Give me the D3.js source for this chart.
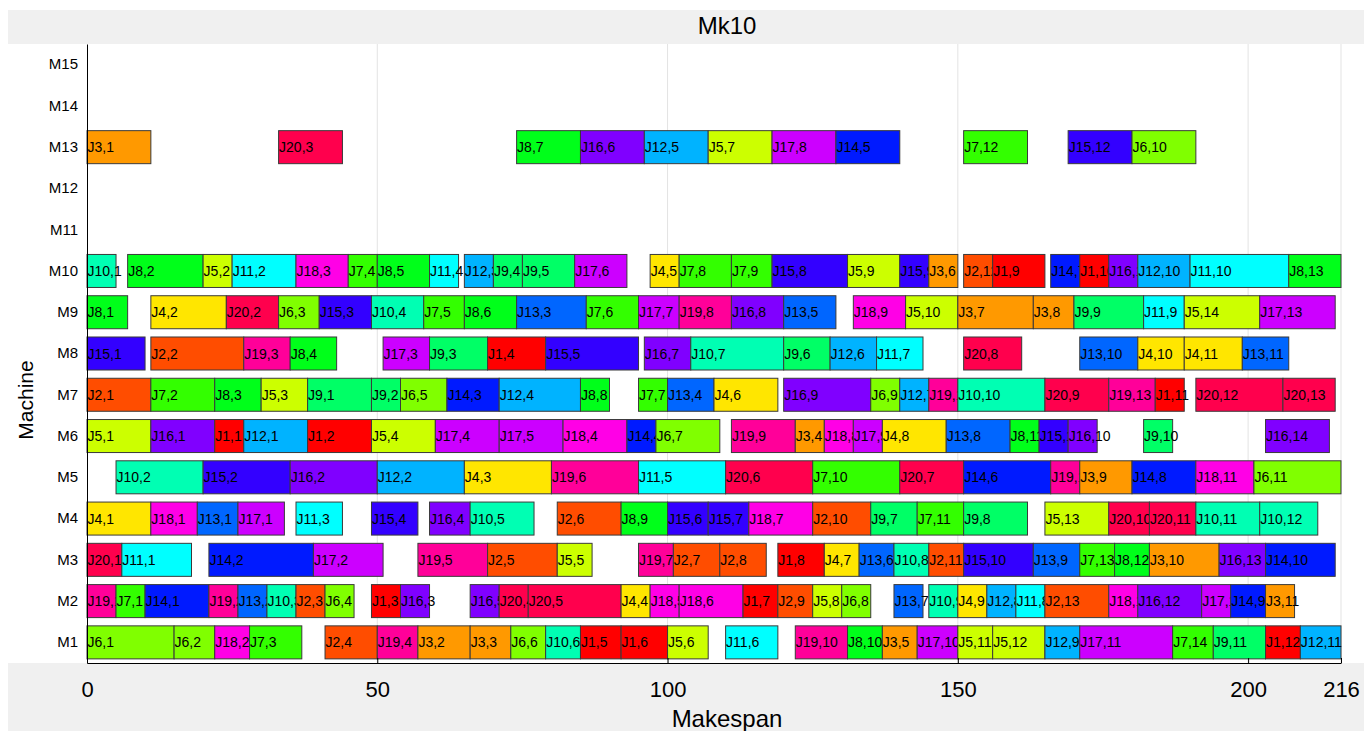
<!DOCTYPE html>
<html>
<head>
<meta charset="utf-8">
<script src="https://cdn.jsdelivr.net/npm/d3@7"></script>
<style>
body { margin: 0; background: #fff; }
svg { display: block; font-family: "Liberation Sans", Arial, sans-serif; }
</style>
</head>
<body>
<div id="chart"></div>
<script>
const machines = ["M1","M2","M3","M4","M5","M6","M7","M8","M9","M10","M11","M12","M13","M14","M15"];
const xTicks = [0, 50, 100, 150, 200, 216];
const makespan = 216;

// each entry: [job, operation, start, end]
const M1 = [[6,1,0,15],[6,2,15,22],[18,2,22,28],[7,3,28,37],[2,4,41,50],[19,4,50,57],[3,2,57,66],[3,3,66,73],[6,6,73,79],[10,6,79,85],[1,5,85,92],[1,6,92,100],[5,6,100,107],[11,6,110,119],[19,10,122,131],[8,10,131,137],[3,5,137,143],[17,10,143,150],[5,11,150,156],[5,12,156,165],[12,9,165,171],[17,11,171,187],[7,14,187,194],[9,11,194,203],[1,12,203,209],[12,11,209,216]];
const M2 = [[19,1,0,5],[7,1,5,10],[14,1,10,21],[19,2,21,26],[13,2,26,31],[10,3,31,36],[2,3,36,41],[6,4,41,46],[1,3,49,54],[16,3,54,59],[16,5,66,71],[20,4,71,76],[20,5,76,92],[4,4,92,97],[18,5,97,102],[18,6,102,113],[1,7,113,119],[2,9,119,125],[5,8,125,130],[6,8,130,135],[13,7,139,144],[10,9,145,150],[4,9,150,155],[12,8,155,160],[11,8,160,165],[2,13,165,176],[18,10,176,181],[16,12,181,192],[17,12,192,197],[14,9,197,203],[3,11,203,208]];
const M3 = [[20,1,0,6],[11,1,6,18],[14,2,21,39],[17,2,39,51],[19,5,57,69],[2,5,69,81],[5,5,81,87],[19,7,95,101],[2,7,101,109],[2,8,109,117],[1,8,119,127],[4,7,127,133],[13,6,133,139],[10,8,139,145],[2,11,145,151],[15,10,151,163],[13,9,163,171],[7,13,171,177],[8,12,177,183],[3,10,183,195],[16,13,195,203],[14,10,203,215]];
const M4 = [[4,1,0,11],[18,1,11,19],[13,1,19,26],[17,1,26,34],[11,3,36,44],[15,4,49,57],[16,4,59,66],[10,5,66,77],[2,6,81,92],[8,9,92,100],[15,6,100,107],[15,7,107,114],[18,7,114,125],[2,10,125,135],[9,7,135,143],[7,11,143,151],[9,8,151,162],[5,13,165,176],[20,10,176,183],[20,11,183,191],[10,11,191,202],[10,12,202,212]];
const M5 = [[10,2,5,20],[15,2,20,35],[16,2,35,50],[12,2,50,65],[4,3,65,80],[19,6,80,95],[11,5,95,110],[20,6,110,125],[7,10,125,140],[20,7,140,151],[14,6,151,166],[19,12,166,171],[3,9,171,180],[14,8,180,191],[18,11,191,201],[6,11,201,216]];
const M6 = [[5,1,0,11],[16,1,11,22],[1,1,22,27],[12,1,27,38],[1,2,38,49],[5,4,49,60],[17,4,60,71],[17,5,71,82],[18,4,82,93],[14,4,93,98],[6,7,98,109],[19,9,111,122],[3,4,122,127],[18,8,127,132],[17,9,132,137],[4,8,137,148],[13,8,148,159],[8,11,159,164],[15,11,164,169],[16,10,169,174],[9,10,182,187],[16,14,203,214]];
const M7 = [[2,1,0,11],[7,2,11,22],[8,3,22,30],[5,3,30,38],[9,1,38,49],[9,2,49,54],[6,5,54,62],[14,3,62,71],[12,4,71,85],[8,8,85,90],[7,7,95,100],[13,4,100,108],[4,6,108,119],[16,9,120,135],[6,9,135,140],[12,7,140,145],[19,11,145,150],[10,10,150,165],[20,9,165,176],[19,13,176,184],[1,11,184,189],[20,12,191,206],[20,13,206,215]];
const M8 = [[15,1,0,10],[2,2,11,27],[19,3,27,35],[8,4,35,43],[17,3,51,59],[9,3,59,69],[1,4,69,79],[15,5,79,95],[16,7,96,104],[10,7,104,120],[9,6,120,128],[12,6,128,136],[11,7,136,144],[20,8,151,161],[13,10,171,181],[4,10,181,189],[4,11,189,199],[13,11,199,207]];
const M9 = [[8,1,0,7],[4,2,11,24],[20,2,24,33],[6,3,33,40],[15,3,40,49],[10,4,49,58],[7,5,58,65],[8,6,65,74],[13,3,74,86],[7,6,86,95],[17,7,95,102],[19,8,102,111],[16,8,111,120],[13,5,120,129],[18,9,132,141],[5,10,141,150],[3,7,150,163],[3,8,163,170],[9,9,170,182],[11,9,182,189],[5,14,189,202],[17,13,202,215]];
const M10 = [[10,1,0,5],[8,2,7,20],[5,2,20,25],[11,2,25,36],[18,3,36,45],[7,4,45,50],[8,5,50,59],[11,4,59,64],[12,3,65,70],[9,4,70,75],[9,5,75,84],[17,6,84,93],[4,5,97,102],[7,8,102,111],[7,9,111,118],[15,8,118,131],[5,9,131,140],[15,9,140,145],[3,6,145,150],[2,12,151,156],[1,9,156,165],[14,7,166,171],[1,10,171,176],[16,11,176,181],[12,10,181,190],[11,10,190,207],[8,13,207,216]];
const M11 = [];
const M12 = [];
const M13 = [[3,1,0,11],[20,3,33,44],[8,7,74,85],[16,6,85,96],[12,5,96,107],[5,7,107,118],[17,8,118,129],[14,5,129,140],[7,12,151,162],[15,12,169,180],[6,10,180,191]];
const M14 = [];
const M15 = [];

const schedule = [M1, M2, M3, M4, M5, M6, M7, M8, M9, M10, M11, M12, M13, M14, M15];

const W = 1364, H = 731;
const plot = {left: 87, right: 1341, top: 44, bottom: 663};

const svg = d3.select("#chart").append("svg")
	.attr("width", W)
	.attr("height", H);

// figure background and white axes area
svg.append("rect").attr("x", 8).attr("y", 10).attr("width", W - 8).attr("height", H - 10).attr("fill", "#f0f0f0");
svg.append("rect").attr("x", 8).attr("y", plot.top).attr("width", W - 8).attr("height", plot.bottom - plot.top).attr("fill", "#ffffff");

const x = d3.scaleLinear().domain([0, makespan]).range([plot.left, plot.right]);
const y = d3.scaleBand().domain(machines.slice().reverse()).range([plot.top, plot.bottom])
	.paddingInner(0.2).paddingOuter(0.1);

const jobColor = j => d3.hsl((j - 1) * 18, 1, 0.5).formatHex();

// grid
svg.append("g")
	.selectAll("line")
	.data(xTicks.filter(d => d > 0))
	.join("line")
	.attr("x1", d => x(d)).attr("x2", d => x(d))
	.attr("y1", plot.top).attr("y2", plot.bottom)
	.attr("stroke", "#e3e3e3")
	.attr("stroke-width", 1);

// flatten ops, draw in time order so later bars cover overflowing labels
let ops = [];
schedule.forEach((row, i) => {
	row.forEach(d => ops.push({m: machines[i], job: d[0], op: d[1], start: d[2], end: d[3]}));
});
ops.sort((a, b) => a.start - b.start);

const bars = svg.append("g");
ops.forEach(d => {
	bars.append("rect")
		.attr("x", x(d.start))
		.attr("y", y(d.m))
		.attr("width", x(d.end) - x(d.start))
		.attr("height", y.bandwidth())
		.attr("fill", jobColor(d.job))
		.attr("stroke", "#3a3a3a")
		.attr("stroke-width", 1);
	bars.append("text")
		.attr("x", x(d.start) + 0.5)
		.attr("y", y(d.m) + y.bandwidth() / 2 + 5)
		.attr("font-size", 14)
		.attr("fill", "#000")
		.text("J" + d.job + "," + d.op);
});

// axes
const xAxis = svg.append("g")
	.attr("transform", "translate(0," + plot.bottom + ")")
	.call(d3.axisBottom(x).tickValues(xTicks).tickSizeInner(-5).tickSizeOuter(0).tickPadding(18));
xAxis.select(".domain").attr("stroke", "#000");
xAxis.selectAll("text").attr("font-size", 22).attr("fill", "#000").attr("font-family", "Liberation Sans, Arial, sans-serif");

const yAxis = svg.append("g")
	.attr("transform", "translate(" + plot.left + ",0)")
	.call(d3.axisLeft(y).tickSize(0).tickPadding(9));
yAxis.select(".domain").attr("stroke", "#000");
yAxis.selectAll("text").attr("font-size", 15).attr("fill", "#000").attr("font-family", "Liberation Sans, Arial, sans-serif");

// title and labels
svg.append("text")
	.attr("x", 727).attr("y", 34)
	.attr("text-anchor", "middle")
	.attr("font-size", 24)
	.text("Mk10");

svg.append("text")
	.attr("x", 727).attr("y", 727)
	.attr("text-anchor", "middle")
	.attr("font-size", 24)
	.text("Makespan");

svg.append("text")
	.attr("transform", "translate(33,400) rotate(-90)")
	.attr("text-anchor", "middle")
	.attr("font-size", 21)
	.text("Machine");
</script>
</body>
</html>
